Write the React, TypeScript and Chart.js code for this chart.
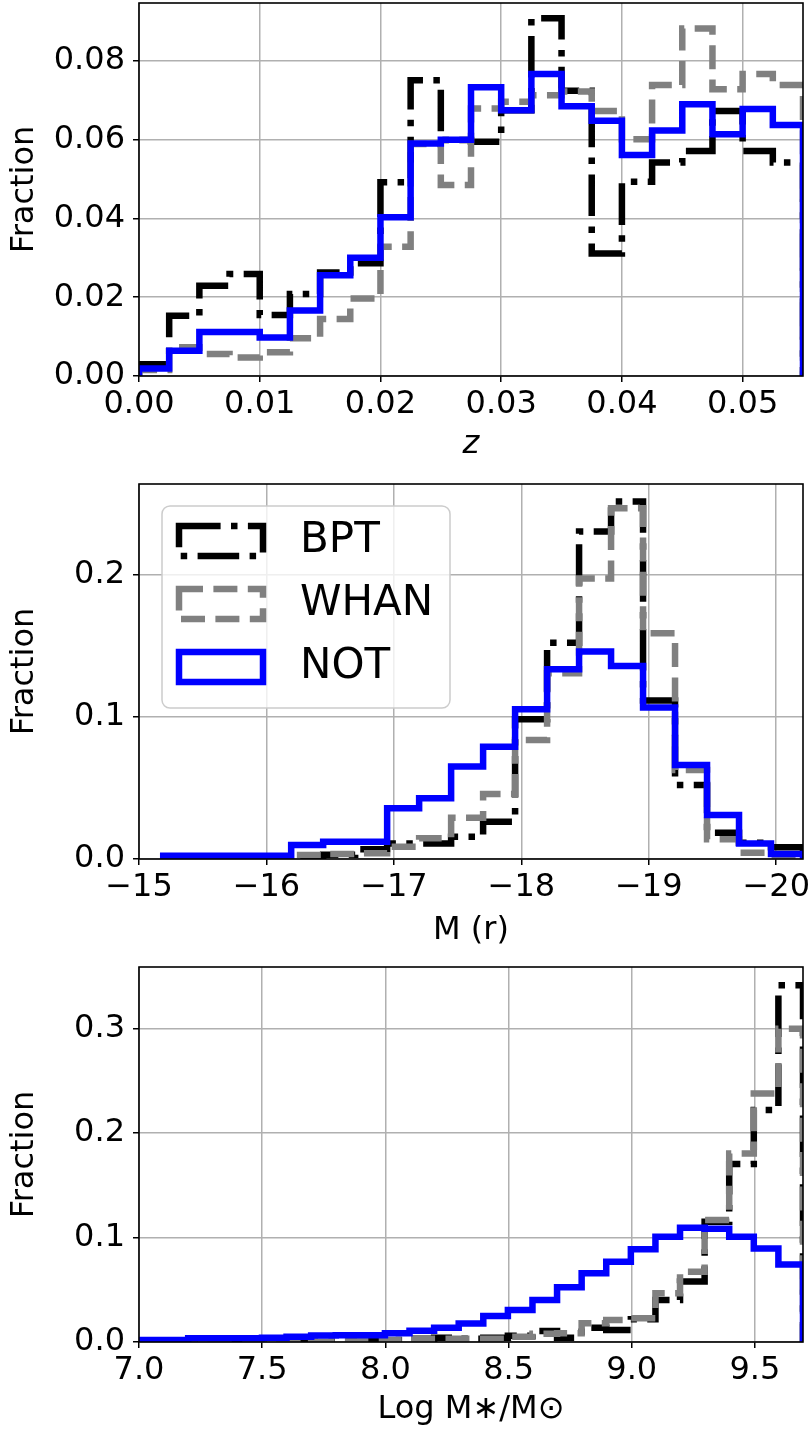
import React, { useEffect, useRef } from 'react';
import { Chart, registerables } from 'chart.js';

Chart.register(...registerables);

const FONT_FAMILY = "'DejaVu Sans', 'Liberation Sans', sans-serif";

// ---------- legend / series ----------
const SERIES_NAMES = ['BPT', 'WHAN', 'NOT'];
const SERIES_COLORS = ['#000000', '#808080', '#0000ff'];

// ---------- panel 1 : redshift z ----------
const Z_EDGES = [0, 0.0025, 0.005, 0.0075, 0.01, 0.0125, 0.015, 0.0175, 0.02, 0.0225, 0.025, 0.0275,
  0.03, 0.0325, 0.035, 0.0375, 0.04, 0.0425, 0.045, 0.0475, 0.05, 0.0525, 0.055];
const Z_BPT = [0.0030, 0.0153, 0.0229, 0.0259, 0.0155, 0.0208, 0.0263, 0.0286, 0.0492, 0.0751, 0.0599,
  0.0595, 0.0675, 0.0908, 0.0724, 0.0311, 0.0493, 0.0542, 0.0571, 0.0673, 0.0571, 0.0542];
const Z_WHAN = [0.0015, 0.0073, 0.0056, 0.0047, 0.0060, 0.0096, 0.0145, 0.0197, 0.0328, 0.0589, 0.0485,
  0.0679, 0.0696, 0.0713, 0.0722, 0.0673, 0.0601, 0.0739, 0.0882, 0.0728, 0.0767, 0.0739];
const Z_NOT = [0.0019, 0.0064, 0.0112, 0.0112, 0.0098, 0.0166, 0.0256, 0.0300, 0.0403, 0.0590, 0.0600,
  0.0733, 0.0675, 0.0767, 0.0685, 0.0648, 0.0561, 0.0623, 0.0690, 0.0614, 0.0678, 0.0637];

// ---------- panel 2 : absolute magnitude M(r) ----------
const MR_EDGES = [-15.19, -15.441, -15.692, -15.943, -16.194, -16.445, -16.696, -16.947, -17.198, -17.449,
  -17.7, -17.951, -18.202, -18.453, -18.704, -18.955, -19.206, -19.457, -19.708, -19.959, -20.21];
const MR_BPT = [0, 0, 0, 0, 0.0005, 0.003, 0.0068, 0.011, 0.011, 0.0157, 0.0263, 0.0984, 0.1523, 0.2305,
  0.2516, 0.1115, 0.0521, 0.0185, 0.0115, 0.0082];
const MR_WHAN = [0, 0, 0, 0, 0.0028, 0.0035, 0.004, 0.0087, 0.0146, 0.0290, 0.0458, 0.0838, 0.1308, 0.1974,
  0.2470, 0.1590, 0.0627, 0.0139, 0.0044, 0.0020];
const MR_NOT = [0.0023, 0.0023, 0.0023, 0.0023, 0.0099, 0.0122, 0.0122, 0.0357, 0.0427, 0.0652, 0.0791,
  0.1054, 0.1336, 0.1460, 0.1359, 0.1066, 0.0662, 0.0310, 0.0110, 0.0035];

// ---------- panel 3 : stellar mass ----------
const MASS_EDGES = [7.0, 7.0998, 7.1996, 7.2994, 7.3993, 7.4991, 7.5989, 7.6987, 7.7985, 7.8983, 7.9981,
  8.0979, 8.1978, 8.2976, 8.3974, 8.4972, 8.597, 8.6968, 8.7966, 8.8964, 8.9963, 9.0961, 9.1959, 9.2957,
  9.3955, 9.4953, 9.5951, 9.695];
const MASS_BPT = [0, 0, 0, 0, 0, 0, 0, 0.0003, 0.0005, 0.001, 0.002, 0.003, 0.004, 0.003, 0.004, 0.006,
  0.0105, 0.004, 0.0137, 0.0115, 0.0217, 0.0402, 0.058, 0.115, 0.1703, 0.222, 0.3416];
const MASS_WHAN = [0, 0, 0, 0, 0, 0, 0, 0.0003, 0.0005, 0.001, 0.002, 0.003, 0.003, 0.003, 0.003, 0.005,
  0.008, 0.0083, 0.018, 0.021, 0.0227, 0.0466, 0.0673, 0.1167, 0.1805, 0.238, 0.300];
const MASS_NOT = [0.0018, 0.0018, 0.0035, 0.0035, 0.0035, 0.0040, 0.0051, 0.0062, 0.0065, 0.0065, 0.0083,
  0.0108, 0.0137, 0.0176, 0.0249, 0.0306, 0.0402, 0.0523, 0.0657, 0.0769, 0.0887, 0.1008, 0.1094, 0.1085,
  0.1008, 0.0896, 0.0743];

// ---------- styles ----------
const LINE_W = 6.5;
const SERIES_DASH = [[41.6, 10.4, 6.5, 10.4], [24, 10.4], []];
const GRID_COLOR = '#b0b0b0';

type PanelSpec = {
  top: number;
  height: number;
  padTop: number;
  xAxisH: number;
  edges: number[];
  series: number[][];
  xMin: number;
  xMax: number;
  xReverse: boolean;
  xStep: number;
  xFmt: (v: number) => string;
  yMax: number;
  yStep: number;
  yFmt: (v: number) => string;
  xTitle: string;
  xTitleItalic: boolean;
  xTitlePad: number;
  legend: boolean;
};

const PANELS: PanelSpec[] = [
  {
    top: 0, height: 480, padTop: 3, xAxisH: 104,
    edges: Z_EDGES, series: [Z_BPT, Z_WHAN, Z_NOT],
    xMin: 0, xMax: 0.055, xReverse: false, xStep: 0.01, xFmt: (v) => v.toFixed(2),
    yMax: 0.0947, yStep: 0.02, yFmt: (v) => v.toFixed(2),
    xTitle: 'z', xTitleItalic: true, xTitlePad: 16, legend: false,
  },
  {
    top: 480, height: 480, padTop: 4, xAxisH: 101,
    edges: MR_EDGES, series: [MR_BPT, MR_WHAN, MR_NOT],
    xMin: -20.21, xMax: -15, xReverse: true, xStep: 1,
    xFmt: (v) => String(Math.round(v)).replace('-', '\u2212'),
    yMax: 0.264, yStep: 0.1, yFmt: (v) => v.toFixed(1),
    xTitle: 'M (r)', xTitleItalic: false, xTitlePad: 10, legend: true,
  },
  {
    top: 960, height: 475, padTop: 7, xAxisH: 93,
    edges: MASS_EDGES, series: [MASS_BPT, MASS_WHAN, MASS_NOT],
    xMin: 7.0, xMax: 9.695, xReverse: false, xStep: 0.5, xFmt: (v) => v.toFixed(1),
    yMax: 0.359, yStep: 0.1, yFmt: (v) => v.toFixed(1),
    xTitle: 'Log M\u2217/M\u2299', xTitleItalic: false, xTitlePad: 6, legend: false,
  },
];

function stepPoints(edges: number[], values: number[]) {
  const pts: { x: number; y: number }[] = [{ x: edges[0], y: 0 }];
  values.forEach((v, i) => pts.push({ x: edges[i], y: v }));
  pts.push({ x: edges[edges.length - 1], y: 0 });
  return pts;
}

const frameBoxPlugin = {
  id: 'frameBox',
  afterDatasetsDraw(chart: any) {
    const { ctx, chartArea: a } = chart;
    ctx.save();
    ctx.strokeStyle = '#000000';
    ctx.lineWidth = 1.6;
    ctx.setLineDash([]);
    ctx.strokeRect(a.left, a.top, a.right - a.left, a.bottom - a.top);
    ctx.restore();
  },
};

// legend placement (canvas-relative, for panel 2)
const LEGEND_FRAME = { x: 162, y: 26, w: 288, h: 202, r: 8 };
const LEGEND_BOX_LEFT = 179;
const LEGEND_ROW_TOP = 40;
const LEGEND_TEXT_SHIFT = 16;

const legendFramePlugin = {
  id: 'legendFrame',
  afterLayout(chart: any) {
    const legend = chart.legend;
    if (!legend || !legend.options || !legend.options.display || legend.__patched) return;
    const orig = legend.draw.bind(legend);
    legend.draw = function (area: any) {
      const ctx: any = chart.ctx;
      const f = LEGEND_FRAME;
      ctx.save();
      ctx.beginPath();
      ctx.moveTo(f.x + f.r, f.y);
      ctx.arcTo(f.x + f.w, f.y, f.x + f.w, f.y + f.h, f.r);
      ctx.arcTo(f.x + f.w, f.y + f.h, f.x, f.y + f.h, f.r);
      ctx.arcTo(f.x, f.y + f.h, f.x, f.y, f.r);
      ctx.arcTo(f.x, f.y, f.x + f.w, f.y, f.r);
      ctx.closePath();
      ctx.fillStyle = 'rgba(255,255,255,0.8)';
      ctx.fill();
      ctx.strokeStyle = '#cccccc';
      ctx.lineWidth = 1.5;
      ctx.stroke();
      ctx.restore();

      const hb = legend.legendHitBoxes && legend.legendHitBoxes[0];
      const dx = hb ? LEGEND_BOX_LEFT - hb.left : 0;
      const dy = hb ? LEGEND_ROW_TOP - hb.top : 0;
      ctx.save();
      ctx.translate(dx, dy);
      const proto = Object.getPrototypeOf(ctx);
      const origFill = proto.fillText;
      ctx.fillText = function (t: string, x: number, y: number, m?: number) {
        if (m === undefined) return origFill.call(this, t, x + LEGEND_TEXT_SHIFT, y);
        return origFill.call(this, t, x + LEGEND_TEXT_SHIFT, y, m);
      };
      try {
        orig(area);
      } finally {
        delete ctx.fillText;
        ctx.restore();
      }
    };
    legend.__patched = true;
  },
};

function makeConfig(spec: PanelSpec): any {
  const datasets = spec.series.map((vals, i) => ({
    label: SERIES_NAMES[i],
    data: stepPoints(spec.edges, vals),
    borderColor: SERIES_COLORS[i],
    backgroundColor: 'rgba(0,0,0,0)',
    borderWidth: LINE_W,
    borderDash: SERIES_DASH[i],
    borderCapStyle: 'butt',
    borderJoinStyle: 'miter',
    stepped: 'before',
    pointRadius: 0,
    pointHoverRadius: 0,
    fill: false,
    tension: 0,
    clip: 0,
    order: 2 - i,
  }));

  const tickFont = { family: FONT_FAMILY, size: 32, lineHeight: 1.2 };

  return {
    type: 'line',
    data: { datasets },
    options: {
      responsive: false,
      maintainAspectRatio: false,
      animation: false,
      devicePixelRatio: 1,
      events: [],
      layout: {
        autoPadding: false,
        padding: { top: spec.padTop, right: 9, left: 0, bottom: 0 },
      },
      plugins: {
        tooltip: { enabled: false },
        title: { display: false },
        legend: spec.legend
          ? {
              display: true,
              position: 'chartArea',
              align: 'start',
              labels: {
                font: { family: FONT_FAMILY, size: 42 },
                color: '#000000',
                boxWidth: 84,
                boxHeight: 30,
                padding: 21,
                sort: (a: any, b: any) => a.datasetIndex - b.datasetIndex,
              },
            }
          : { display: false },
      },
      scales: {
        x: {
          type: 'linear',
          min: spec.xMin,
          max: spec.xMax,
          reverse: spec.xReverse,
          afterFit: (s: any) => {
            s.height = spec.xAxisH;
            s.paddingLeft = 0;
            s.paddingRight = 0;
          },
          border: { display: false },
          grid: {
            color: GRID_COLOR,
            lineWidth: 1.5,
            drawTicks: true,
            tickLength: 6,
            tickColor: '#000000',
            tickWidth: 1.5,
          },
          ticks: {
            stepSize: spec.xStep,
            includeBounds: false,
            autoSkip: false,
            maxRotation: 0,
            minRotation: 0,
            padding: 3,
            color: '#000000',
            font: tickFont,
            callback: (v: any) => spec.xFmt(Number(v)),
          },
          title: {
            display: true,
            text: spec.xTitle,
            color: '#000000',
            font: { family: FONT_FAMILY, size: 32, lineHeight: 1.2, style: spec.xTitleItalic ? 'italic' : 'normal' },
            padding: { top: 0, bottom: spec.xTitlePad },
          },
        },
        y: {
          type: 'linear',
          min: 0,
          max: spec.yMax,
          afterFit: (s: any) => {
            s.width = 139;
            s.paddingTop = 0;
            s.paddingBottom = 0;
          },
          border: { display: false },
          grid: {
            color: GRID_COLOR,
            lineWidth: 1.5,
            drawTicks: true,
            tickLength: 6,
            tickColor: '#000000',
            tickWidth: 1.5,
          },
          ticks: {
            stepSize: spec.yStep,
            includeBounds: false,
            autoSkip: false,
            padding: 8,
            color: '#000000',
            font: tickFont,
            callback: (v: any) => spec.yFmt(Number(v)),
          },
          title: {
            display: true,
            text: 'Fraction',
            color: '#000000',
            font: { family: FONT_FAMILY, size: 32, lineHeight: 1.2 },
            padding: { top: 5, bottom: 0 },
          },
        },
      },
    },
    plugins: [frameBoxPlugin, legendFramePlugin],
  };
}

function Panel({ spec }: { spec: PanelSpec }) {
  const ref = useRef<HTMLCanvasElement | null>(null);
  useEffect(() => {
    if (!ref.current) return;
    const chart = new Chart(ref.current, makeConfig(spec));
    return () => chart.destroy();
  }, [spec]);
  return (
    <canvas
      ref={ref}
      width={812}
      height={spec.height}
      style={{ position: 'absolute', left: 0, top: spec.top, width: 812, height: spec.height, display: 'block' }}
    />
  );
}

export default function App() {
  return (
    <div style={{ position: 'absolute', left: 0, top: 0, width: 812, height: 1435, background: '#ffffff' }}>
      {PANELS.map((p, i) => (
        <Panel key={i} spec={p} />
      ))}
    </div>
  );
}
